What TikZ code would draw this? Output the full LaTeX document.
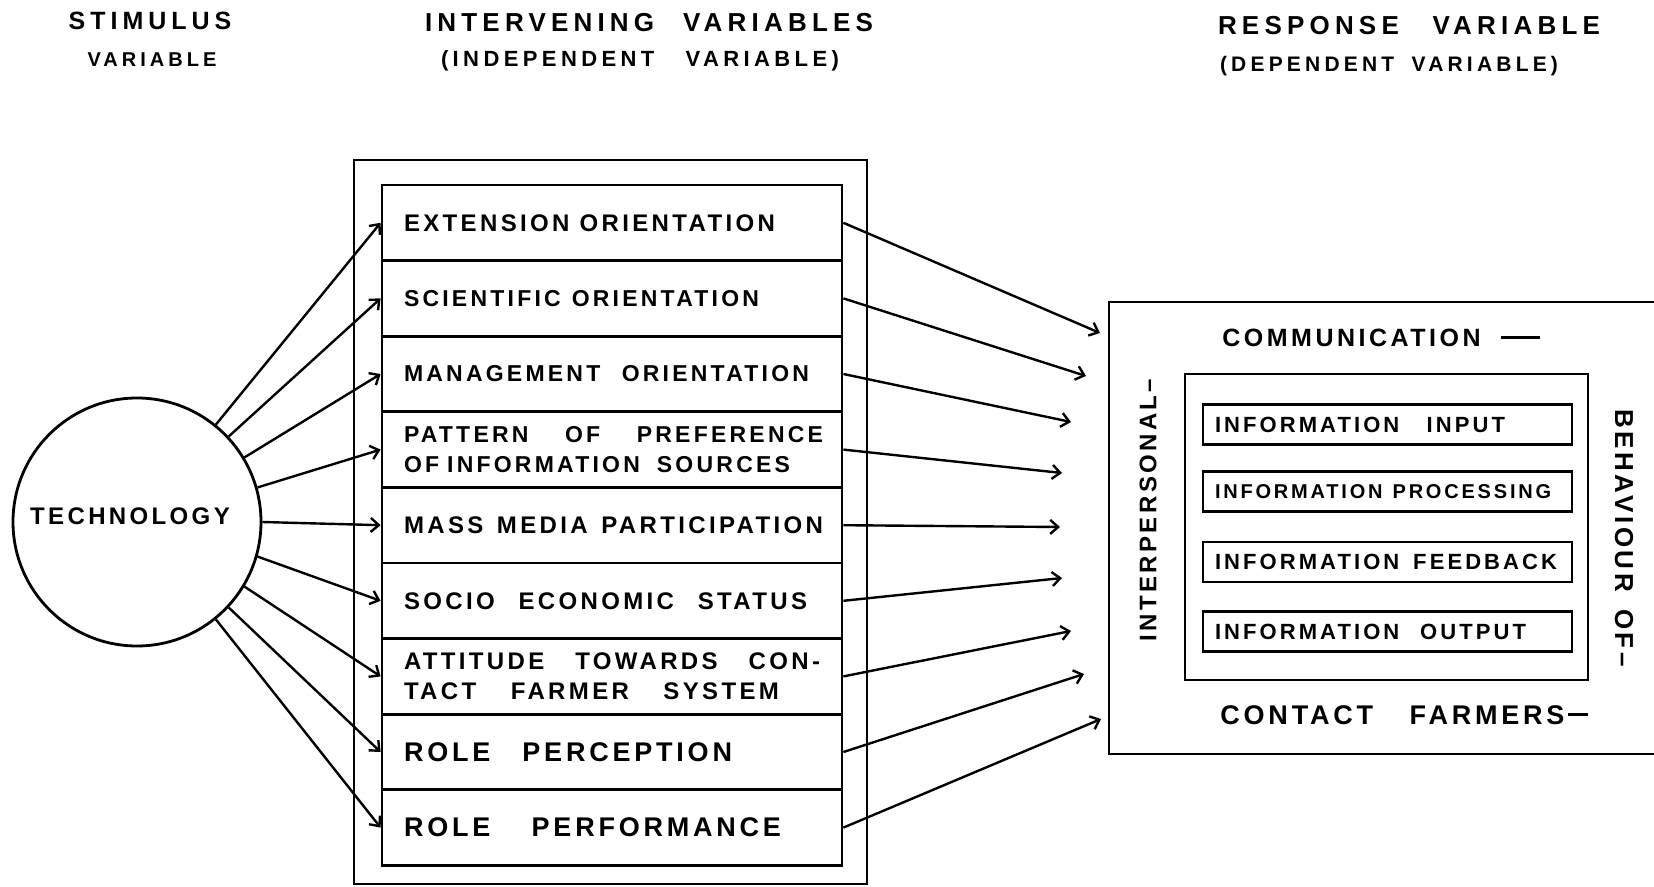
\documentclass[tikz,border=0pt]{standalone}
\usepackage{fontspec}
\setmainfont{Liberation Sans}
\newfontfamily\hand[LetterSpace=14]{Liberation Sans Bold}
\newfontfamily\handw[LetterSpace=20]{Liberation Sans Bold}
\usetikzlibrary{arrows.meta}
\hyphenpenalty=10000
\exhyphenpenalty=10000
\uchyph=0
\newcommand\spread[2]{\leavevmode\hbox to #1pt{#2}}
\newcommand\gp{\hskip 5pt plus 1fill\relax}
\newcommand\dashrule[1]{\rule[0.3em]{#1pt}{1.4pt}}
\begin{document}
\begin{tikzpicture}[x=0.5pt,y=-0.5pt,
  box/.style={draw, line width=1.4pt},
  rowbox/.style={box, minimum width=230pt, minimum height=37.8pt, text width=208pt,
    inner xsep=11pt, inner ysep=0pt, align=left, font=\hand\fontsize{12}{15}\selectfont},
  infobox/.style={box, minimum width=184.5pt, minimum height=20pt, text width=172.5pt,
    inner xsep=6pt, inner ysep=0pt, align=left, font=\hand\fontsize{11}{12}\selectfont},
  arr/.style={line width=1.2pt, -{Straight Barb[length=4pt,width=7pt]}},
  head/.style={inner sep=0pt, font=\handw\fontsize{13}{16}\selectfont},
  sub/.style={inner sep=0pt, font=\handw\fontsize{10.5}{13}\selectfont},
  lbl/.style={inner sep=0pt, font=\hand\fontsize{12}{14}\selectfont}]
\useasboundingbox (0,0) rectangle (1654,887);

% headings
\node[head, font=\handw\fontsize{12.5}{16}\selectfont] (h1) at (150,21) {STIMULUS};
\node[sub, font=\handw\fontsize{10}{13}\selectfont] (h1b) at (152,60) {VARIABLE};
\node[head] (h2) at (649,23) {\spread{224}{INTERVENING\gp VARIABLES}};
\node[sub, font=\handw\fontsize{11}{13}\selectfont] (h2b) at (640,61) {\spread{199}{(INDEPENDENT\gp VARIABLE)}};
\node[head] (h3) at (1409,26) {\spread{191}{RESPONSE\gp VARIABLE}};
\node[sub, font=\handw\fontsize{10.5}{13}\selectfont] (h3b) at (1389,66) {\spread{169}{(DEPENDENT\gp VARIABLE)}};

% stimulus
\node[box, circle, minimum size=124pt, inner sep=0pt] (tech) at (137,522) {};
\node[inner sep=0pt, font=\hand\fontsize{12}{14}\selectfont] (techlbl) at (130,516) {TECHNOLOGY};

% intervening variables
\node[box, minimum width=256.5pt, minimum height=362pt, inner sep=0pt] (outer) at (610.5,522) {};
\node[rowbox] (r1) at (612,222.8) {\spread{185}{EXTENSION\gp ORIENTATION}};
\node[rowbox, font=\hand\fontsize{11.5}{15}\selectfont] (r2) at (612,298.4) {\spread{177.5}{SCIENTIFIC\gp ORIENTATION}};
\node[rowbox, font=\hand\fontsize{11.5}{15}\selectfont] (r3) at (612,374) {\spread{202.5}{MANAGEMENT\gp ORIENTATION}};
\node[rowbox, font=\hand\fontsize{11.5}{15}\selectfont] (r4) at (612,449.6) {\spread{209.5}{PATTERN\gp OF\gp PREFERENCE}\\
  \spread{193}{OF\hspace{4pt}INFORMATION\gp SOURCES}};
\node[rowbox] (r5) at (612,525.2) {\spread{209.5}{MASS\gp MEDIA\gp PARTICIPATION}};
\node[rowbox] (r6) at (612,600.8) {\spread{201.5}{SOCIO\gp ECONOMIC\gp STATUS}};
\node[rowbox] (r7) at (612,676.4) {\spread{208}{ATTITUDE\gp TOWARDS\gp CON-}\\
  \spread{187.5}{TACT\gp FARMER\gp SYSTEM}};
\node[rowbox, font=\hand\fontsize{13.5}{15}\selectfont] (r8) at (612,752) {\spread{164}{ROLE\gp PERCEPTION}};
\node[rowbox, font=\hand\fontsize{13.5}{15}\selectfont] (r9) at (612,827.6) {\spread{188.5}{ROLE\gp PERFORMANCE}};

% arrows from technology
\draw[arr] (tech.51) -- (r1.west);
\draw[arr] (tech.43) -- (r2.west);
\draw[arr] (tech.31) -- (r3.west);
\draw[arr] (tech.16) -- (r4.west);
\draw[arr] (tech.0) -- (r5.west);
\draw[arr] (tech.-16) -- (r6.west);
\draw[arr] (tech.-31) -- (r7.west);
\draw[arr] (tech.-43) -- (r8.west);
\draw[arr] (tech.-51) -- (r9.west);

% response variable
\draw[box] (1654,302) -- (1109,302) -- (1109,754) -- (1654,754);
\node[box, minimum width=201.5pt, minimum height=153pt, inner sep=0pt] (inner) at (1386.5,527) {};
\node[infobox] (i1) at (1387.5,424.5) {\spread{145}{INFORMATION\gp INPUT}};
\node[infobox, font=\hand\fontsize{10}{12}\selectfont] (i2) at (1387.5,491.5) {\spread{168}{INFORMATION\gp PROCESSING}};
\node[infobox] (i3) at (1387.5,562) {\spread{171}{INFORMATION\gp FEEDBACK}};
\node[infobox] (i4) at (1387.5,631.5) {\spread{155.5}{INFORMATION\gp OUTPUT}};
\node[lbl, anchor=west, font=\hand\fontsize{12.5}{14}\selectfont] (comm) at (1222,338) {\spread{159}{COMMUNICATION\gp\dashrule{19.5}}};
\node[lbl, anchor=west, font=\hand\fontsize{13.5}{15}\selectfont] (cf) at (1220,715) {\spread{184}{CONTACT\gp FARMERS\hspace{2pt}\dashrule{10}}};
\node[lbl, rotate=90, font=\hand\fontsize{12}{14}\selectfont] (ip) at (1148,510) {INTERPERSONAL–};
\node[lbl, rotate=-90, font=\hand\fontsize{13}{15}\selectfont] (bo) at (1624,538) {\spread{129}{BEHAVIOUR\gp OF–}};

% arrows to response
\coordinate (t1) at (1100,333);
\coordinate (t2) at (1086,376);
\coordinate (t3) at (1071,422);
\coordinate (t4) at (1062,473);
\coordinate (t5) at (1060,527);
\coordinate (t6) at (1062,578);
\coordinate (t7) at (1071,631);
\coordinate (t8) at (1084,674);
\coordinate (t9) at (1101,719);
\draw[arr] (r1.east) -- (t1);
\draw[arr] (r2.east) -- (t2);
\draw[arr] (r3.east) -- (t3);
\draw[arr] (r4.east) -- (t4);
\draw[arr] (r5.east) -- (t5);
\draw[arr] (r6.east) -- (t6);
\draw[arr] (r7.east) -- (t7);
\draw[arr] (r8.east) -- (t8);
\draw[arr] (r9.east) -- (t9);
\end{tikzpicture}
\end{document}
